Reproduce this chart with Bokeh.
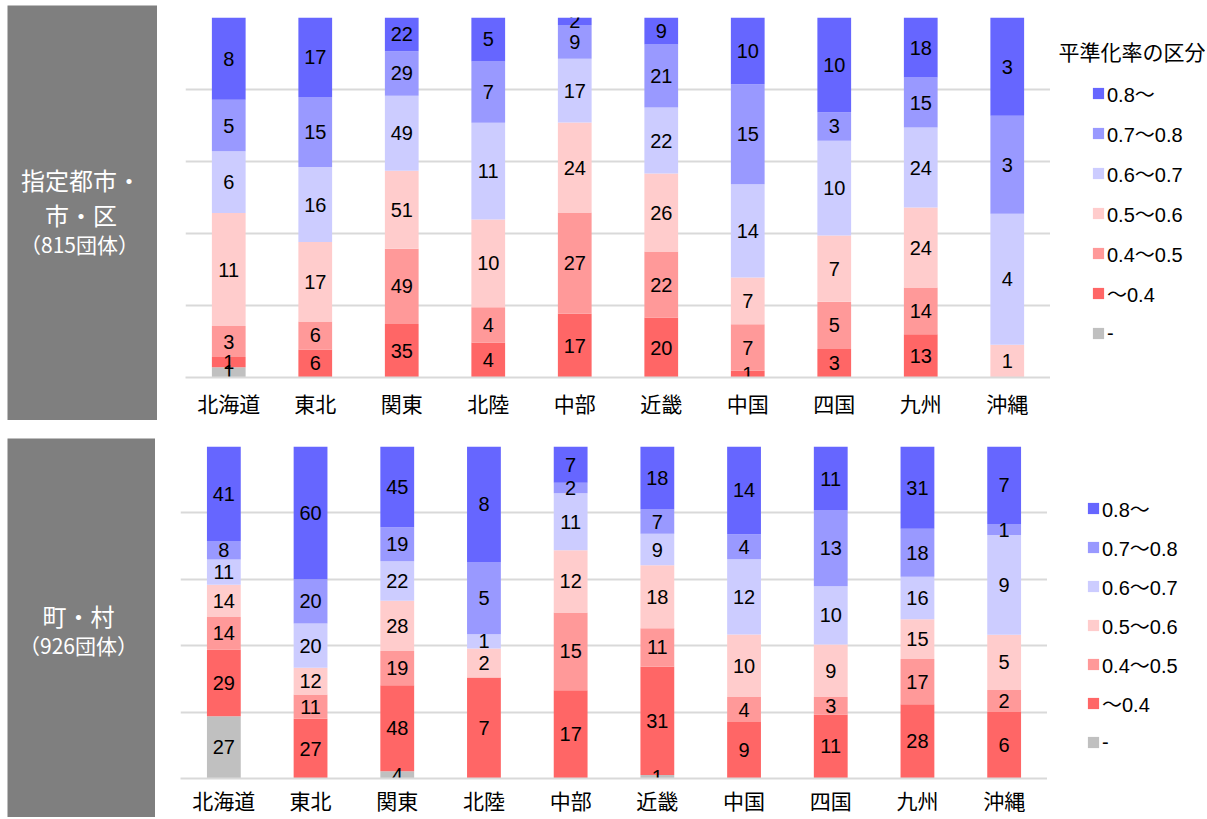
from bokeh.plotting import figure
from bokeh.models import (ColumnDataSource, Legend, LegendItem, Label, FixedTicker,
                          Range1d, FactorRange, Spacer)
from bokeh.layouts import column, row
from bokeh.embed import file_html
from bokeh.resources import INLINE
from bokeh.core.properties import value

# ---------------- data ----------------
regions = ["北海道", "東北", "関東", "北陸", "中部", "近畿", "中国", "四国", "九州", "沖縄"]
bands = ["-", "～0.4", "0.4～0.5", "0.5～0.6", "0.6～0.7", "0.7～0.8", "0.8～"]
band_colors = ["#C0C0C0", "#FF6666", "#FF9999", "#FFCCCC", "#CCCCFF", "#9999FF", "#6666FF"]
legend_title = "平準化率の区分"

# 指定都市・市・区 (815団体)
city_none = [1, 0, 0, 0, 0, 0, 0, 0, 0, 0]
city_lt04 = [1, 6, 35, 4, 17, 20, 1, 3, 13, 0]
city_04_05 = [3, 6, 49, 4, 27, 22, 7, 5, 14, 0]
city_05_06 = [11, 17, 51, 10, 24, 26, 7, 7, 24, 1]
city_06_07 = [6, 16, 49, 11, 17, 22, 14, 10, 24, 4]
city_07_08 = [5, 15, 29, 7, 9, 21, 15, 3, 15, 3]
city_ge08 = [8, 17, 22, 5, 2, 9, 10, 10, 18, 3]

# 町・村 (926団体)
town_none = [27, 0, 4, 0, 0, 1, 0, 0, 0, 0]
town_lt04 = [29, 27, 48, 7, 17, 31, 9, 11, 28, 6]
town_04_05 = [14, 11, 19, 0, 15, 11, 4, 3, 17, 2]
town_05_06 = [14, 12, 28, 2, 12, 18, 10, 9, 15, 5]
town_06_07 = [11, 20, 22, 1, 11, 9, 12, 10, 16, 9]
town_07_08 = [8, 20, 19, 5, 2, 7, 4, 13, 18, 1]
town_ge08 = [41, 60, 45, 8, 7, 18, 14, 11, 31, 7]

city_series = [city_none, city_lt04, city_04_05, city_05_06, city_06_07, city_07_08, city_ge08]
town_series = [town_none, town_lt04, town_04_05, town_05_06, town_06_07, town_07_08, town_ge08]

city_label = ["指定都市・", "市・区", "（815団体）"]
town_label = ["町・村", "（926団体）"]

NUM_FONT = "Liberation Sans"
CJK_FONT = "Noto Sans CJK JP"
LEG_FONT = "Liberation Sans, Noto Sans CJK JP"
GRID = "#d9d9d9"
BOX = "#7f7f7f"
NAN = float("nan")


def make_chart(series, width, height, bl, bt, bb, standoff):
    keys = [f"s{i}" for i in range(len(series))]
    totals = [sum(c) for c in zip(*series)]
    data = {"region": regions}
    for k, s in zip(keys, series):
        data[k] = [v / t for v, t in zip(s, totals)]
    src = ColumnDataSource(data)

    p = figure(x_range=FactorRange(*regions), y_range=Range1d(0, 1),
               width=width, height=height, toolbar_location=None, output_backend="svg",
               min_border_left=bl, min_border_right=0, min_border_top=bt, min_border_bottom=bb)
    p.outline_line_color = None
    p.vbar_stack(keys, x="region", width=0.39, color=band_colors, line_color=None, source=src)

    lx, ly, lt = [], [], []
    for i, r in enumerate(regions):
        cum = 0.0
        for s in series:
            frac = s[i] / totals[i]
            if s[i] > 0:
                lx.append(r)
                ly.append(cum + frac / 2)
                lt.append(str(s[i]))
            cum += frac
    p.text(x=lx, y=ly, text=lt, text_align="center", text_baseline="middle",
           text_font=value(NUM_FONT), text_font_size="20px", text_color="#000000")

    p.yaxis.visible = False
    p.xgrid.visible = False
    p.ygrid.ticker = FixedTicker(ticks=[0, 0.2, 0.4, 0.6, 0.8, 1.0])
    p.ygrid.grid_line_color = GRID
    p.ygrid.grid_line_width = 2
    p.xaxis.axis_line_color = GRID
    p.xaxis.axis_line_width = 2
    p.xaxis.major_tick_line_color = None
    p.xaxis.minor_tick_line_color = None
    p.xaxis.major_tick_out = 0
    p.xaxis.major_tick_in = 0
    p.xaxis.major_label_standoff = standoff
    p.xaxis.major_label_text_font = CJK_FONT
    p.xaxis.major_label_text_font_size = "21px"
    p.xaxis.major_label_text_color = "#000000"
    return p


def make_legend_fig(width, height, frame_h, leg_xy, spacing, title_xy=None):
    f = figure(width=width, height=height, x_range=Range1d(0, width), y_range=Range1d(0, frame_h),
               toolbar_location=None, output_backend="svg", min_border=0)
    f.axis.visible = False
    f.grid.visible = False
    f.outline_line_color = None
    # legend-only renderers (no visible mark)
    rends = [f.vbar(x=[NAN], top=[NAN], width=1, fill_color=c, line_color=None) for c in band_colors]
    items = [LegendItem(label=bands[i], renderers=[rends[i]]) for i in reversed(range(len(bands)))]
    leg = Legend(items=items, location=leg_xy, orientation="vertical",
                 glyph_width=14, glyph_height=14, label_standoff=2, spacing=spacing,
                 padding=0, margin=0, background_fill_alpha=0, border_line_color=None,
                 label_text_font=LEG_FONT, label_text_font_size="20px",
                 label_text_color="#000000", label_height=30)
    f.add_layout(leg)
    if title_xy is not None:
        f.add_layout(Label(x=title_xy[0], y=title_xy[1], text=legend_title,
                           text_font=CJK_FONT, text_font_size="21px", text_color="#000000",
                           text_align="left", text_baseline="middle"))
    return f


def make_box(lines, xs, ys, sizes, width, height):
    g = figure(width=width, height=height, x_range=Range1d(0, 1), y_range=Range1d(0, 1),
               toolbar_location=None, output_backend="svg", min_border=0)
    g.axis.visible = False
    g.grid.visible = False
    g.outline_line_color = None
    g.background_fill_color = BOX
    g.border_fill_color = BOX
    for t, x, y, s in zip(lines, xs, ys, sizes):
        g.text(x=[x], y=[y], text=[t], text_align="center", text_baseline="middle",
               text_font=value(CJK_FONT), text_font_size=s, text_color="#ffffff")
    return g


p1 = make_chart(city_series, 893, 438, 28, 17, 61, 10)
lf1 = make_legend_fig(155, 438, 360, (41, 29), 10, title_xy=(8, 327))
g1 = make_box(city_label, [0.49, 0.49, 0.48], [0.580, 0.497, 0.425],
              ["24px", "24px", "21px"], 150, 415)

p2 = make_chart(town_series, 890, 379, 23, 8, 38, 6)
lf2 = make_legend_fig(160, 379, 333, (39, 21), 9)
g2 = make_box(town_label, [0.48, 0.48], [0.534, 0.455], ["24px", "21px"], 148, 379)

left_col = column(Spacer(height=5), g1, Spacer(height=18), g2)
right_col = column(row(p1, lf1), row(p2, lf2))
layout = row(Spacer(width=7), left_col, right_col)

open("out.html", "w").write(file_html(layout, INLINE))
